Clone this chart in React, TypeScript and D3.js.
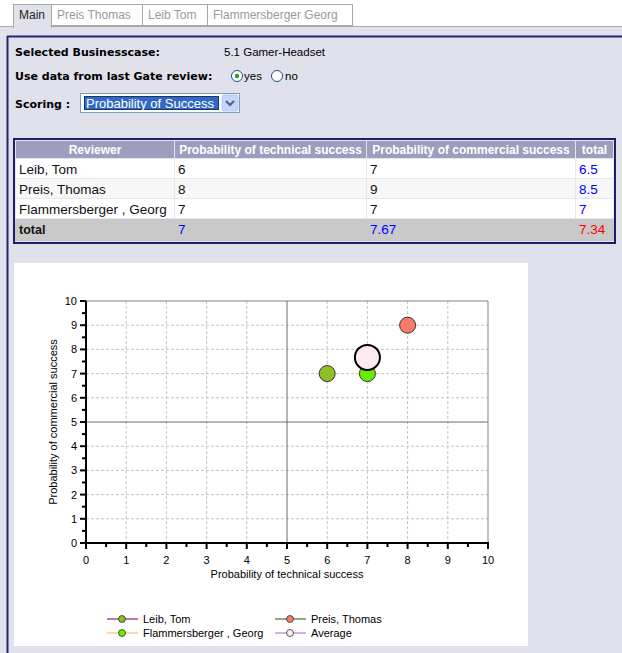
import React from "react";
import * as d3 from "d3";

const tabs = ["Main", "Preis Thomas", "Leib Tom", "Flammersberger Georg"];
const reviewers = ["Leib, Tom", "Preis, Thomas", "Flammersberger , Georg"];
const techValues = [6, 8, 7];
const commValues = [7, 9, 7];
const rowTotals = ["6.5", "8.5", "7"];
const totalRow = ["7", "7.67", "7.34"];
const headers = ["Reviewer", "Probability of technical success", "Probability of commercial success", "total"];
const avgPoint = { name: "Average", tech: 7, comm: 7.67 };
const pointColors = ["#8fbf26", "#f97a68", "#66ee00"];
const legendLineColors = ["#8b1c8b", "#4f6b3a", "#ffb870"];
const avgFill = "#fde9f0";
const avgLine = "#b07fdc";
const axisTicks = [0, 1, 2, 3, 4, 5, 6, 7, 8, 9, 10];
const minorTicks = [0.5, 1.5, 2.5, 3.5, 4.5, 5.5, 6.5, 7.5, 8.5, 9.5];

const UI = "'DejaVu Sans', Verdana, sans-serif";
const AR = "'Liberation Sans', Arial, sans-serif";

export default function App() {
  const x = d3.scaleLinear().domain([0, 10]).range([86, 488]);
  const y = d3.scaleLinear().domain([0, 10]).range([543, 301]);

  const tabX = [13, 51, 142, 207, 352];
  const colX = [15, 174, 366, 575, 613];
  const rowY = [159, 179, 199, 219];

  const legendItems = [
    { name: reviewers[0], fill: pointColors[0], line: legendLineColors[0], lx: 107, ly: 619 },
    { name: reviewers[1], fill: pointColors[1], line: legendLineColors[1], lx: 275, ly: 619 },
    { name: reviewers[2], fill: pointColors[2], line: legendLineColors[2], lx: 107, ly: 633 },
    { name: avgPoint.name, fill: avgFill, line: avgLine, lx: 275, ly: 633 },
  ];

  return (
    <>
      <style>{`body{margin:0;background:#fff}`}</style>
      <svg width={622} height={653} style={{ display: "block" }}>
        {/* page background */}
        <rect x={0} y={0} width={622} height={653} fill="#fff" />
        <rect x={0} y={26} width={622} height={627} fill="#e1e1eb" />
        <line x1={0} x2={622} y1={26.5} y2={26.5} stroke="#a8a8a8" />
        {/* tabs */}
        {tabs.map((t, i) => {
          const active = i === 0;
          const x0 = tabX[i];
          const x1 = tabX[i + 1];
          return (
            <g key={t}>
              <rect
                x={x0 + 0.5}
                y={4.5}
                width={x1 - x0}
                height={active ? 23 : 21}
                fill={active ? "#e1e1eb" : "#fff"}
                stroke="#a8a8a8"
              />
              <text x={x0 + 6} y={19} fontFamily={AR} fontSize={12} fill={active ? "#222" : "#9a9a9a"}>
                {t}
              </text>
            </g>
          );
        })}
        <rect x={14} y={26} width={37} height={3} fill="#e1e1eb" />
        {/* navy panel border */}
        <line x1={7} x2={622} y1={36.5} y2={36.5} stroke="#24246e" strokeWidth={2} />
        <line x1={7.5} x2={7.5} y1={36} y2={653} stroke="#24246e" strokeWidth={2} />

        {/* form */}
        <text x={15} y={56} fontFamily={UI} fontWeight="bold" fontSize={11} fill="#000">Selected Businesscase:</text>
        <text x={224} y={56} fontFamily={AR} fontSize={11.5} fill="#000">5.1 Gamer-Headset</text>
        <text x={15} y={80} fontFamily={UI} fontWeight="bold" fontSize={11} fill="#000">Use data from last Gate review:</text>
        <circle cx={237} cy={76} r={5.5} fill="#fff" stroke="#1c5180" />
        <circle cx={237} cy={76} r={2.2} fill="#21a121" />
        <text x={244} y={80} fontFamily={AR} fontSize={11.5} fill="#000">yes</text>
        <circle cx={277} cy={76} r={5.5} fill="#fff" stroke="#1c5180" />
        <text x={285} y={80} fontFamily={AR} fontSize={11.5} fill="#000">no</text>
        <text x={15} y={108} fontFamily={UI} fontWeight="bold" fontSize={11} fill="#000">Scoring :</text>
        <rect x={80.5} y={93.5} width={159} height={19} fill="#fff" stroke="#7f9db9" />
        <rect x={84} y={96} width={135} height={14} fill="#316ac5" />
        <rect x={84.5} y={96.5} width={134} height={13} fill="none" stroke="#000" strokeDasharray="1 1" />
        <text x={86} y={107.5} fontFamily={AR} fontSize={13} fill="#fff">Probability of Success</text>
        <rect x={222} y={95} width={16} height={16} fill="#c5d5fc" stroke="#b4c8f6" rx={2} />
        <path d="M226,101 L230,105 L234,101" fill="none" stroke="#4d6185" strokeWidth={2} />

        {/* table */}
        <rect x={14} y={139} width={601} height={104} fill="#e6e6ee" stroke="#1e1e66" strokeWidth={2} />
        {headers.map((h, i) => (
          <g key={h}>
            <rect x={colX[i] + 1} y={141} width={colX[i + 1] - colX[i] - 1} height={17} fill="#9d9dbd" />
            <text
              x={(colX[i] + colX[i + 1]) / 2 + 0.5}
              y={154}
              textAnchor="middle"
              fontFamily={AR}
              fontWeight="bold"
              fontSize={12}
              fill="#fff"
            >
              {h}
            </text>
          </g>
        ))}
        {reviewers.map((r, ri) => {
          const cells = [r, String(techValues[ri]), String(commValues[ri]), rowTotals[ri]];
          const bg = ri === 1 ? "#f7f7f7" : "#fff";
          return (
            <g key={r}>
              {cells.map((c, ci) => (
                <g key={ci}>
                  <rect x={colX[ci] + 1} y={rowY[ri]} width={colX[ci + 1] - colX[ci] - 1} height={19} fill={bg} />
                  <text
                    x={colX[ci] + 4}
                    y={rowY[ri] + 14.5}
                    fontFamily={AR}
                    fontSize={13.5}
                    fill={ci === 3 ? "#0000ff" : "#111"}
                  >
                    {c}
                  </text>
                </g>
              ))}
            </g>
          );
        })}
        <rect x={15} y={rowY[3]} width={599} height={22} fill="#c9c9c9" />
        <text x={19} y={rowY[3] + 15} fontFamily={AR} fontWeight="bold" fontSize={12.5} fill="#111">total</text>
        {totalRow.map((v, i) => (
          <text
            key={i}
            x={colX[i + 1] + 4}
            y={rowY[3] + 15}
            fontFamily={AR}
            fontSize={13.5}
            fill={i === 2 ? "#ff0000" : "#0000ff"}
          >
            {v}
          </text>
        ))}

        {/* chart box */}
        <rect x={14} y={263} width={514} height={383} fill="#fff" />
        {/* grid */}
        {axisTicks.filter((t) => t > 0 && t < 10 && t !== 5).map((t) => (
          <g key={"g" + t}>
            <line x1={x(t)} x2={x(t)} y1={y(10)} y2={y(0)} stroke="#c4c4c4" strokeDasharray="3 2" />
            <line x1={x(0)} x2={x(10)} y1={y(t)} y2={y(t)} stroke="#c4c4c4" strokeDasharray="3 2" />
          </g>
        ))}
        <line x1={x(5)} x2={x(5)} y1={y(10)} y2={y(0)} stroke="#6a6a6a" />
        <line x1={x(0)} x2={x(10)} y1={y(5)} y2={y(5)} stroke="#6a6a6a" />
        <line x1={x(0)} x2={x(10)} y1={y(10)} y2={y(10)} stroke="#808080" />
        <line x1={x(10)} x2={x(10)} y1={y(10)} y2={y(0)} stroke="#808080" />
        {/* axes */}
        <line x1={x(0)} x2={x(0)} y1={y(10)} y2={y(0) + 1} stroke="#000" strokeWidth={2} />
        <line x1={x(0) - 1} x2={x(10) + 1} y1={y(0)} y2={y(0)} stroke="#000" strokeWidth={2} />
        {axisTicks.map((t) => (
          <g key={"t" + t}>
            <line x1={x(0) - 6} x2={x(0)} y1={y(t)} y2={y(t)} stroke="#000" strokeWidth={2} />
            <text x={x(0) - 9} y={y(t) + 4} textAnchor="end" fontFamily={AR} fontSize={11} fill="#000">{t}</text>
            <line x1={x(t)} x2={x(t)} y1={y(0)} y2={y(0) + 6} stroke="#000" strokeWidth={2} />
            <text x={x(t)} y={y(0) + 21} textAnchor="middle" fontFamily={AR} fontSize={11} fill="#000">{t}</text>
          </g>
        ))}
        {minorTicks.map((t) => (
          <g key={"m" + t}>
            <line x1={x(0) - 4} x2={x(0)} y1={y(t)} y2={y(t)} stroke="#000" strokeWidth={2} />
            <line x1={x(t)} x2={x(t)} y1={y(0)} y2={y(0) + 4} stroke="#000" strokeWidth={2} />
          </g>
        ))}
        <text x={(x(0) + x(10)) / 2} y={578} textAnchor="middle" fontFamily={AR} fontSize={11} fill="#000">
          Probability of technical success
        </text>
        <text
          transform={`translate(57,${(y(0) + y(10)) / 2}) rotate(-90)`}
          textAnchor="middle"
          fontFamily={AR}
          fontSize={11}
          fill="#000"
        >
          Probability of commercial success
        </text>
        {/* points */}
        {reviewers.map((r, i) => (
          <circle key={r} cx={x(techValues[i])} cy={y(commValues[i])} r={8} fill={pointColors[i]} stroke="#333" strokeWidth={1} />
        ))}
        <circle cx={x(avgPoint.tech)} cy={y(avgPoint.comm)} r={12.5} fill={avgFill} stroke="#000" strokeWidth={2} />

        {/* legend */}
        {legendItems.map((l) => (
          <g key={l.name}>
            <line x1={l.lx} x2={l.lx + 31} y1={l.ly} y2={l.ly} stroke={l.line} strokeWidth={1.2} />
            <circle cx={l.lx + 15} cy={l.ly} r={3.5} fill={l.fill} stroke="#333" strokeWidth={0.8} />
            <text x={l.lx + 36} y={l.ly + 4} fontFamily={AR} fontSize={11} fill="#000">{l.name}</text>
          </g>
        ))}
      </svg>
    </>
  );
}
